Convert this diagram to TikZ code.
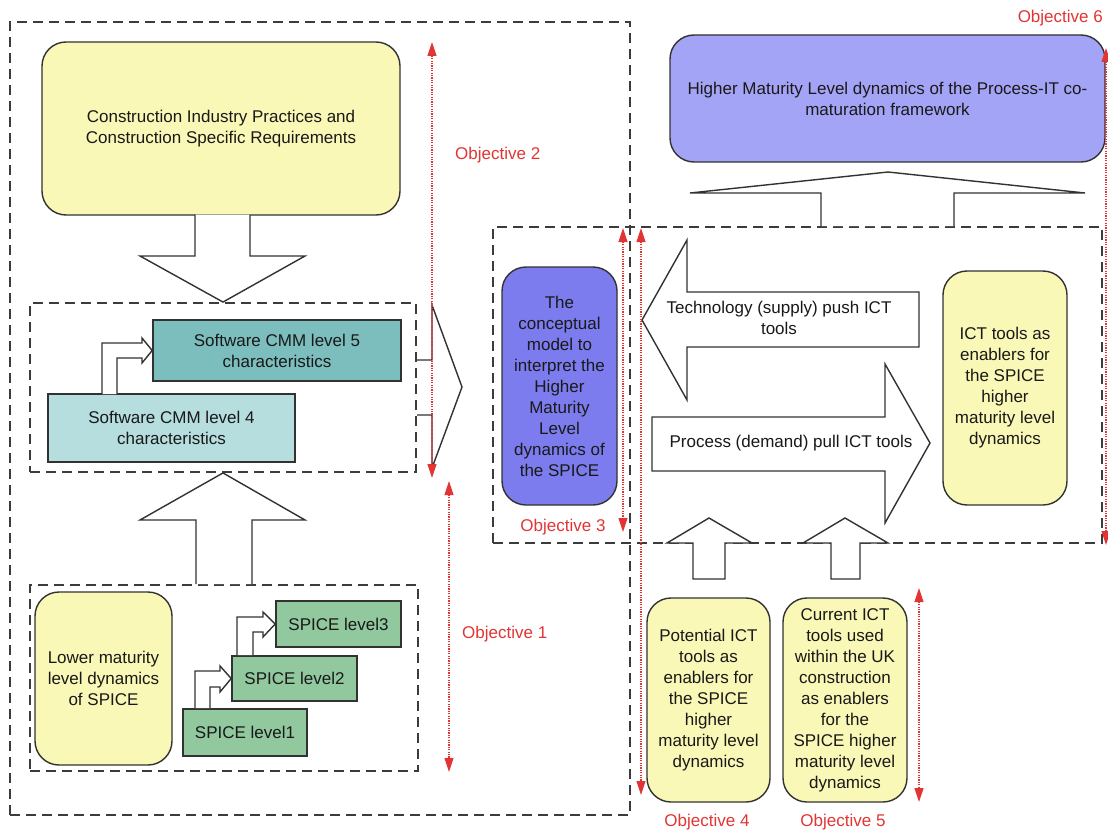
\documentclass[tikz,border=0pt]{standalone}
\usepackage{fontspec}
\setmainfont{Liberation Sans}
\usetikzlibrary{arrows.meta,calc}
\definecolor{ylw}{RGB}{250,248,182}
\definecolor{bluedark}{RGB}{124,124,238}
\definecolor{bluelight}{RGB}{164,164,246}
\definecolor{tealdark}{RGB}{124,190,190}
\definecolor{teallight}{RGB}{182,222,222}
\definecolor{grn}{RGB}{146,200,158}
\definecolor{objred}{RGB}{226,52,52}
\definecolor{edgecol}{RGB}{50,50,50}
\definecolor{dashcol}{RGB}{60,60,60}
\definecolor{txtcol}{RGB}{25,25,25}
\begin{document}
\begin{tikzpicture}[x=1pt,y=-1pt,
  font=\fontsize{17}{21}\selectfont, text=txtcol,
  dbox/.style={draw=dashcol, line width=1.9pt, dash pattern=on 10pt off 6pt, inner sep=0pt},
  rbox/.style={draw=edgecol, line width=1.4pt, rounded corners=24pt, align=center, inner sep=0pt},
  sbox/.style={draw=edgecol, line width=1.6pt, align=center, inner sep=0pt},
  fat/.style={draw=edgecol, line width=1.4pt, fill=white, line join=miter},
  objline/.style={draw=objred, line width=1.1pt, dash pattern=on 1.2pt off 1.2pt,
    {Triangle[length=14pt,width=9pt,fill=objred]}-{Triangle[length=14pt,width=9pt,fill=objred]}},
  objlabel/.style={text=objred, inner sep=0pt}]
\useasboundingbox (0,0) rectangle (1108,832);

% dashed grouping boxes
\node[dbox, minimum width=620pt, minimum height=793pt] (leftbox) at (320,418.5) {};
\node[dbox, minimum width=609pt, minimum height=316pt] (midbox) at (797.5,385) {};
\node[dbox, minimum width=386pt, minimum height=169pt] (cmmbox) at (223,387.5) {};
\node[dbox, minimum width=388pt, minimum height=186pt] (spicebox) at (224,678) {};

% main boxes
\node[rbox, fill=ylw, minimum width=358pt, minimum height=173pt] (cons) at (221,128.5)
  {Construction Industry Practices and\\Construction Specific Requirements};
\node[sbox, fill=tealdark, minimum width=248pt, minimum height=61pt] (cmm5) at (277,350.5)
  {Software CMM level 5\\characteristics};
\node[sbox, fill=teallight, minimum width=247pt, minimum height=68pt] (cmm4) at (171.5,428)
  {Software CMM level 4\\characteristics};
\node[rbox, fill=ylw, minimum width=137pt, minimum height=173pt] (lower) at (103.5,678.5)
  {Lower maturity\\level dynamics\\of SPICE};
\node[sbox, fill=grn, minimum width=125pt, minimum height=46pt] (sp3) at (338.5,624) {SPICE level3};
\node[sbox, fill=grn, minimum width=125pt, minimum height=45pt] (sp2) at (294.5,678.5) {SPICE level2};
\node[sbox, fill=grn, minimum width=124pt, minimum height=47pt] (sp1) at (245,732.5) {SPICE level1};
\node[rbox, fill=bluedark, minimum width=115pt, minimum height=238pt] (concept) at (559.5,386)
  {The\\conceptual\\model to\\interpret the\\Higher\\Maturity\\Level\\dynamics of\\the SPICE};
\node[rbox, fill=bluelight, minimum width=435pt, minimum height=127pt] (top) at (887.5,98.5)
  {Higher Maturity Level dynamics of the Process-IT co-\\maturation framework};
\node[rbox, fill=ylw, minimum width=124pt, minimum height=234pt] (ict) at (1005,388)
  {ICT tools as\\enablers for\\the SPICE\\higher\\maturity level\\dynamics};
\node[rbox, fill=ylw, minimum width=123pt, minimum height=204pt] (pot) at (708.5,700)
  {Potential ICT\\tools as\\enablers for\\the SPICE\\higher\\maturity level\\dynamics};
\node[rbox, fill=ylw, minimum width=124pt, minimum height=204pt] (cur) at (845,700)
  {Current ICT\\tools used\\within the UK\\construction\\as enablers\\for the\\SPICE higher\\maturity level\\dynamics};

% fat block arrows
\draw[fat] ($(cons.south)+(-26,-1)$) -- (195,256) -- (140,256) -- (cmmbox.north) -- (305,256) -- (250,256) -- ($(cons.south)+(29,-1)$);
\draw[fat] (196,584) -- (196,520) -- (140,520) -- (cmmbox.south) -- (305,520) -- (252,520) -- (252,584);
\draw[fat] (417,360) -- (432,360) -- (432,305) -- (462,387) -- (432,468) -- (432,415) -- (417,415);
\draw[fat] (821,226) -- (821,193) -- (690,193) -- (888,172) -- (1085,193) -- (954,193) -- (954,226);
\draw[fat] (919,292) -- (687,292) -- (687,240) -- (642,320) -- (687,400) -- (687,347) -- (919,347) -- cycle;
\draw[fat] (652,417) -- (885,417) -- (885,364) -- (930,443) -- (885,523) -- (885,471) -- (652,471) -- cycle;
\draw[fat] (693,579) -- (693,543) -- (667,543) -- (709,518) -- (752,543) -- (725,543) -- (725,579) -- cycle;
\draw[fat] (831,579) -- (831,543) -- (803,543) -- (845,518) -- (888,543) -- (860,543) -- (860,579) -- cycle;
\node[align=center] (techtxt) at (779,318) {Technology (supply) push ICT\\tools};
\node[align=center] (proctxt) at (791,443) {Process (demand) pull ICT tools};

% small bent arrows
\draw[fat] (102,394) -- (102,343) -- (142,343) -- (142,338) -- (cmm5.west) -- (142,363) -- (142,358) -- (117,358) -- (117,394);
\draw[fat] (195,708) -- (195,671) -- (220,671) -- (220,666) -- (sp2.west) -- (220,692) -- (220,687) -- (210,687) -- (210,708);
\draw[fat] (237,655) -- (237,617) -- (263,617) -- (263,612) -- (sp3.west) -- (263,637) -- (263,632) -- (253,632) -- (253,655);

% objective markers
\coordinate (o2a) at (432,42);  \coordinate (o2b) at (432,478);
\coordinate (o1a) at (449,481); \coordinate (o1b) at (449,772);
\coordinate (o3a) at (623,228); \coordinate (o3b) at (623,532);
\coordinate (o4a) at (641,228); \coordinate (o4b) at (641,795);
\coordinate (o5a) at (919,588); \coordinate (o5b) at (919,802);
\coordinate (o6a) at (1106,48); \coordinate (o6b) at (1106,545);
\draw[objline] (o2a) -- (o2b);
\draw[objline] (o1a) -- (o1b);
\draw[objline] (o3a) -- (o3b);
\draw[objline] (o4a) -- (o4b);
\draw[objline] (o5a) -- (o5b);
\draw[objline] (o6a) -- (o6b);
\node[objlabel, anchor=west] (l2) at (455,155) {Objective 2};
\node[objlabel, anchor=west] (l1) at (462,634) {Objective 1};
\node[objlabel] (l3) at (563,527) {Objective 3};
\node[objlabel] (l4) at (707,822) {Objective 4};
\node[objlabel] (l5) at (843,822) {Objective 5};
\node[objlabel, anchor=east] (l6) at (1103,18) {Objective 6};
\end{tikzpicture}
\end{document}
